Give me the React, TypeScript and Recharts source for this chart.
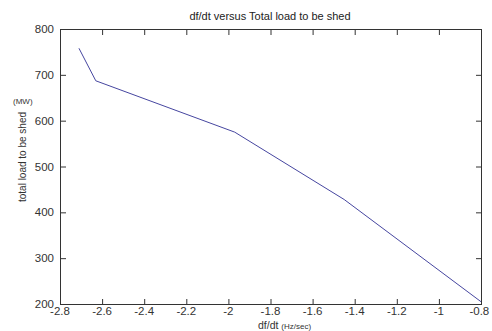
import React from "react";
import { LineChart, Line, XAxis, YAxis } from "recharts";

// df/dt (Hz/sec) and total load to be shed (MW)
const dfdt = [-2.71, -2.63, -1.97, -1.45, -0.8];
const loadShed = [758, 687, 575, 428, 205];

const xTicks = [-2.8, -2.6, -2.4, -2.2, -2, -1.8, -1.6, -1.4, -1.2, -1, -0.8];
const yTicks = [200, 300, 400, 500, 600, 700, 800];

const data = dfdt.map((x, i) => ({ x, y: loadShed[i] }));

const W = 492;
const H = 331;
const M = { top: 29, right: 11, left: 0, bottom: 0 };
const Y_AXIS_W = 60;
const X_AXIS_H = 27;
const xMin = xTicks[0];
const xMax = xTicks[xTicks.length - 1];
const yMin = yTicks[0];
const yMax = yTicks[yTicks.length - 1];

const axisColor = "#333";
const textColor = "#333";
const font = "Liberation Sans, Arial, sans-serif";
const TICK = 5;
const GAP = 3;

const plotL = M.left + Y_AXIS_W;
const plotT = M.top;
const plotW = W - M.left - M.right - Y_AXIS_W;
const plotH = H - M.top - M.bottom - X_AXIS_H;
const px = (v: number) => ((v - xMin) / (xMax - xMin)) * plotW;
const py = (v: number) => plotH - ((v - yMin) / (yMax - yMin)) * plotH;

function BottomTick(props: any) {
  const { x, y, payload } = props;
  return (
    <text x={x} y={y + GAP} dy="0.71em" textAnchor="middle" fontSize={11.5} fill={textColor} fontFamily={font}>
      {String(payload.value)}
    </text>
  );
}

function LeftTick(props: any) {
  const { x, y, payload } = props;
  return (
    <text x={x - 6} y={y} dy="0.355em" textAnchor="end" fontSize={11.5} fill={textColor} fontFamily={font}>
      {String(payload.value)}
    </text>
  );
}

// MATLAB style box with tick marks pointing inward on all four sides
function Frame() {
  return (
    <svg
      width={plotW + 2}
      height={plotH + 2}
      style={{ position: "absolute", left: plotL, top: plotT, pointerEvents: "none" }}
    >
      <line x1={0.5} x2={0.5} y1={0} y2={plotH + 1} stroke={axisColor} />
      <line x1={plotW + 0.5} x2={plotW + 0.5} y1={0} y2={plotH + 1} stroke={axisColor} />
      <line x1={0} x2={plotW + 1} y1={0.5} y2={0.5} stroke={axisColor} />
      <line x1={0} x2={plotW + 1} y1={plotH + 0.5} y2={plotH + 0.5} stroke={axisColor} />
      {xTicks.map((t) => (
        <g key={"x" + t}>
          <line x1={px(t) + 0.5} x2={px(t) + 0.5} y1={plotH} y2={plotH - TICK} stroke={axisColor} />
          <line x1={px(t) + 0.5} x2={px(t) + 0.5} y1={1} y2={1 + TICK} stroke={axisColor} />
        </g>
      ))}
      {yTicks.map((t) => (
        <g key={"y" + t}>
          <line x1={1} x2={1 + TICK} y1={py(t) + 0.5} y2={py(t) + 0.5} stroke={axisColor} />
          <line x1={plotW} x2={plotW - TICK} y1={py(t) + 0.5} y2={py(t) + 0.5} stroke={axisColor} />
        </g>
      ))}
    </svg>
  );
}

export default function App() {
  return (
    <div style={{ position: "absolute", left: 0, top: 0, width: W, height: H, background: "#fff", fontFamily: font, overflow: "hidden" }}>
      <LineChart width={W} height={H} data={data} margin={M}>
        <XAxis
          dataKey="x"
          type="number"
          domain={[xMin, xMax]}
          ticks={xTicks}
          allowDataOverflow
          height={X_AXIS_H}
          tickSize={0}
          tickMargin={0}
          tickLine={false}
          axisLine={false}
          tick={<BottomTick />}
        />
        <YAxis
          type="number"
          domain={[yMin, yMax]}
          ticks={yTicks}
          width={Y_AXIS_W}
          tickSize={0}
          tickMargin={0}
          tickLine={false}
          axisLine={false}
          tick={<LeftTick />}
        />
        <Line
          dataKey="y"
          type="linear"
          stroke="#4646a0"
          strokeWidth={1}
          dot={false}
          isAnimationActive={false}
        />
      </LineChart>
      <Frame />
      <div style={{ position: "absolute", left: 70, width: 400, top: 10, textAlign: "center", fontSize: 11, color: "#222", whiteSpace: "nowrap" }}>
        df/dt versus Total load to be shed
      </div>
      <div style={{ position: "absolute", left: 13, top: 97, fontSize: 8, color: textColor }}>(MW)</div>
      <div
        style={{
          position: "absolute",
          left: 22,
          top: 157,
          transform: "translate(-50%, -50%) rotate(-90deg)",
          fontSize: 10,
          color: textColor,
          whiteSpace: "nowrap",
        }}
      >
        total load to be shed
      </div>
      <div style={{ position: "absolute", left: 258, top: 319, fontSize: 10.5, color: textColor, whiteSpace: "nowrap" }}>
        df/dt <span style={{ fontSize: 8 }}>(Hz/sec)</span>
      </div>
    </div>
  );
}
